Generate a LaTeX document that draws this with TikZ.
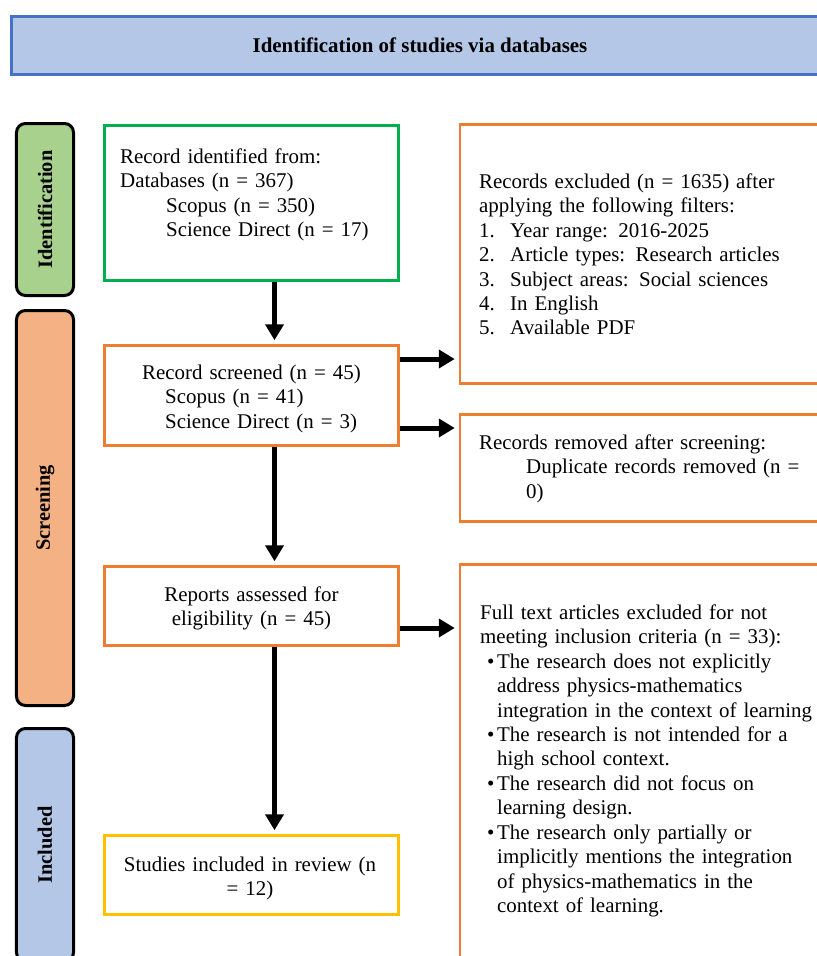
\documentclass[tikz,border=0pt]{standalone}
\usepackage{fontspec}
\setmainfont{Liberation Serif}
\usetikzlibrary{arrows.meta}

\definecolor{barblue}{RGB}{180,199,231}
\definecolor{edgeblue}{RGB}{68,114,196}
\definecolor{bargreen}{RGB}{169,209,142}
\definecolor{barorange}{RGB}{244,177,131}
\definecolor{boxgreen}{RGB}{0,176,80}
\definecolor{boxorange}{RGB}{237,125,49}
\definecolor{boxyellow}{RGB}{255,192,0}

\tikzset{
  titlebar/.style={draw=edgeblue, fill=barblue, line width=3bp, minimum width=817bp, minimum height=58bp, inner sep=0pt, font=\fontsize{21}{24}\selectfont\bfseries},
  phasebar/.style={draw=black, line width=3bp, rounded corners=9bp, minimum height=57bp, inner sep=0pt, rotate=90, font=\fontsize{20.5}{24}\selectfont\bfseries},
  flowbox/.style={draw, line width=2.5bp, minimum width=294bp, inner sep=0pt},
  sidebox/.style={flowbox, draw=boxorange, minimum width=380bp},
  boxtext/.style={inner sep=0pt, text width=340bp, align=left, font=\fontsize{21}{24.5}\selectfont},
  flowarrow/.style={line width=5bp, -{Triangle[width=18bp,length=16bp]}, shorten >=4bp}
}

\begin{document}
\begin{tikzpicture}[x=1bp, y=-1bp]
        \useasboundingbox (0,0) rectangle (817,956);
        \clip (0,0) rectangle (817,956);

        % ==========================================
        % Title and phase bars
        % ==========================================
        \node[titlebar] (title) at (420,45.5) {Identification of studies via databases};

        \node[phasebar, fill=bargreen, minimum width=172bp] (idbar) at (45,209.5) {Identification};
        \node[phasebar, fill=barorange, minimum width=395bp] (scrbar) at (45,508) {Screening};
        \node[phasebar, fill=barblue, minimum width=233bp] (incbar) at (45,845) {Included};

        % ==========================================
        % Main column
        % ==========================================
        \node[flowbox, draw=boxgreen, minimum height=155bp] (records) at (251.5,203) {};
        \node[boxtext, anchor=base west] (recordstxt) at (120,163.5) {Record identified from:\\
            Databases (n = 367)\\
            \hspace*{46bp}Scopus (n = 350)\\
            \hspace*{46bp}Science Direct (n = 17)};

        \node[flowbox, draw=boxorange, minimum height=100bp] (screened) at (251.5,395.5) {};
        \node[boxtext, anchor=base west] (screenedtxt) at (142,379.5) {Record screened (n = 45)\\
            \hspace*{23bp}Scopus (n = 41)\\
            \hspace*{23bp}Science Direct (n = 3)};

        \node[flowbox, draw=boxorange, minimum height=79bp] (assessed) at (251.5,606) {};
        \node[boxtext, text width=297bp, align=center, anchor=base] (assessedtxt) at (251.5,601.5) {Reports assessed for\\ eligibility (n = 45)};

        \node[flowbox, draw=boxyellow, minimum height=79bp] (included) at (251.5,875) {};
        \node[boxtext, text width=297bp, align=center, anchor=base] (includedtxt) at (250,871.5) {Studies included in review (n\\ = 12)};

        % ==========================================
        % Side column
        % ==========================================
        \node[sidebox, minimum height=259bp] (excluded) at (650,254) {};
        \node[boxtext, anchor=base west] (excludedtxt) at (479,188.5) {Records excluded (n = 1635) after\\
            applying the following filters:\\
            \makebox[31bp][l]{1.}Year range: 2016-2025\\
            \makebox[31bp][l]{2.}Article types: Research articles\\
            \makebox[31bp][l]{3.}Subject areas: Social sciences\\
            \makebox[31bp][l]{4.}In English\\
            \makebox[31bp][l]{5.}Available PDF};

        \node[sidebox, minimum height=107bp] (removed) at (650,468) {};
        \node[boxtext, anchor=base west] (removedtxt) at (479,449.5) {Records removed after screening:\\
            \hspace*{47bp}Duplicate records removed (n =\\
            \hspace*{47bp}0)};

        \node[sidebox, minimum height=424bp] (fulltext) at (650,776.5) {};
        \node[boxtext, anchor=base west] (fulltexttxt) at (480,619.5) {Full text articles excluded for not\\
            meeting inclusion criteria (n = 33):\\
            \hspace*{7bp}\makebox[10bp][l]{\textbullet}The research does not explicitly\\
            \hspace*{17bp}address physics-mathematics\\
            \hspace*{17bp}integration in the context of learning\\
            \hspace*{7bp}\makebox[10bp][l]{\textbullet}The research is not intended for a\\
            \hspace*{17bp}high school context.\\
            \hspace*{7bp}\makebox[10bp][l]{\textbullet}The research did not focus on\\
            \hspace*{17bp}learning design.\\
            \hspace*{7bp}\makebox[10bp][l]{\textbullet}The research only partially or\\
            \hspace*{17bp}implicitly mentions the integration\\
            \hspace*{17bp}of physics-mathematics in the\\
            \hspace*{17bp}context of learning.};

        % Arrows
        \draw[flowarrow] ([xshift=23bp]records.south) -- ([xshift=23bp]screened.north);
        \draw[flowarrow] ([xshift=23bp]screened.south) -- ([xshift=23bp]assessed.north);
        \draw[flowarrow] ([xshift=23bp]assessed.south) -- ([xshift=23bp]included.north);
        \draw[flowarrow] ([yshift=36.5bp]screened.east) -- ([yshift=36.5bp]screened.east -| excluded.west);
        \draw[flowarrow] ([yshift=-32.5bp]screened.east) -- ([yshift=-32.5bp]screened.east -| removed.west);
        \draw[flowarrow] ([yshift=-22bp]assessed.east) -- ([yshift=-22bp]assessed.east -| fulltext.west);

    \end{tikzpicture}
\end{document}
